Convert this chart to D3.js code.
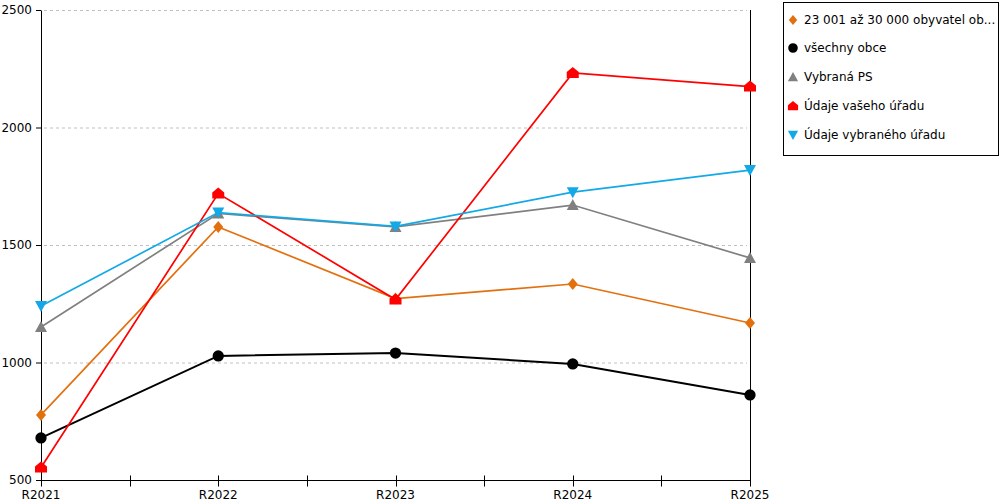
<!DOCTYPE html>
<html><head><meta charset="utf-8">
<script src="https://cdn.jsdelivr.net/npm/d3@7"></script>
<style>
body{margin:0;background:#fff;}
svg{display:block;font-family:"DejaVu Sans",Verdana,sans-serif;}
</style></head><body>
<svg id="c" width="1000" height="500"></svg>
<script>
const categories = ["R2021","R2022","R2023","R2024","R2025"];
const seriesNames = ["23 001 až 30 000 obyvatel ob...","všechny obce","Vybraná PS","Údaje vašeho úřadu","Údaje vybraného úřadu"];
const orangeValues = [777, 1577, 1272, 1334, 1168];
const blackValues  = [679, 1028, 1040, 994, 862];
const grayValues   = [1151, 1634, 1577, 1670, 1445];
const redValues    = [553, 1719, 1268, 2232, 2174];
const blueValues   = [1240, 1638, 1579, 1725, 1819];
const yTicks = [500, 1000, 1500, 2000, 2500];
const colors = ["#e3700e","#000000","#808080","#ff0000","#12a9e6"];
const shapes = ["diamond","circle","triangle","house","triangleDown"];
const allValues = [orangeValues, blackValues, grayValues, redValues, blueValues];

const svg = d3.select("#c");
const L = 41, R = 750, T = 10, B = 480;
const x = d3.scalePoint().domain(categories).range([L, R]);
const y = d3.scaleLinear().domain([500, 2500]).range([B, T]);

// gridlines
svg.append("g").selectAll("line").data(yTicks.filter(d => d > 500)).join("line")
  .attr("x1", L + 3).attr("x2", R - 3).attr("y1", d => y(d) + 0.5).attr("y2", d => y(d) + 0.5)
  .attr("stroke", "#c0c0c0").attr("stroke-dasharray", "3,3").attr("stroke-width", 1);

// y axis
const yAxis = svg.append("g").attr("transform", `translate(${L},0)`)
  .call(d3.axisLeft(y).tickValues(yTicks).tickSize(5).tickSizeOuter(0).tickFormat(d3.format("d")));
yAxis.selectAll("text").attr("font-size", 12).attr("fill", "#000").attr("font-family", "DejaVu Sans").attr("dx", -1);
yAxis.selectAll("path,line").attr("stroke", "#000");

// right axis line
svg.append("line").attr("x1", R + 0.5).attr("x2", R + 0.5).attr("y1", T).attr("y2", B + 6)
  .attr("stroke", "#000");

// x axis
const halfStep = (x(categories[1]) - x(categories[0])) / 2;
const xg = svg.append("g").attr("transform", `translate(0,${B + 0.5})`);
xg.append("line").attr("x1", L).attr("x2", R).attr("stroke", "#000");
const tickPos = d3.range(0, categories.length * 2 - 1).map(i => L + i * halfStep);
xg.selectAll("line.t").data(tickPos).join("line").attr("class", "t")
  .attr("x1", d => Math.round(d) + 0.5).attr("x2", d => Math.round(d) + 0.5)
  .attr("y1", -5).attr("y2", 6).attr("stroke", "#000");
xg.selectAll("text").data(categories).join("text")
  .attr("x", d => x(d)).attr("y", 18).attr("text-anchor", "middle")
  .attr("font-size", 12).text(d => d);

function markerPath(shape) {
  switch (shape) {
    case "diamond": return "M0,-6L5,0L0,6L-5,0Z";
    case "circle": return d3.symbol(d3.symbolCircle, 100)();
    case "triangle": return "M0,-6L6,5L-6,5Z";
    case "house": return "M0,-6L6,-1L6,5L-6,5L-6,-1Z";
    case "triangleDown": return "M-6,-5L6,-5L0,6Z";
  }
}

const line = d3.line().x((d, i) => x(categories[i])).y(d => y(d));
allValues.forEach((vals, s) => {
  const g = svg.append("g");
  g.append("path").datum(vals).attr("d", line).attr("fill", "none")
    .attr("stroke", colors[s]).attr("stroke-width", s === 1 ? 2 : 1.7);
  g.selectAll("path.m").data(vals).join("path").attr("class", "m")
    .attr("transform", (d, i) => `translate(${x(categories[i])},${y(d)})`)
    .attr("d", markerPath(shapes[s])).attr("fill", colors[s]);
});

// legend
const lg = svg.append("g");
lg.append("rect").attr("x", 783.5).attr("y", 2.5).attr("width", 215).attr("height", 153)
  .attr("fill", "#fff").attr("stroke", "#000");
const legendY = [20, 48, 77, 106, 135];
seriesNames.forEach((n, i) => {
  lg.append("path").attr("transform", `translate(793,${legendY[i]}) scale(0.85)`)
    .attr("d", markerPath(shapes[i])).attr("fill", colors[i]);
  lg.append("text").attr("x", 804).attr("y", legendY[i] + 4).attr("font-size", 12).text(n);
});
</script></body></html>
